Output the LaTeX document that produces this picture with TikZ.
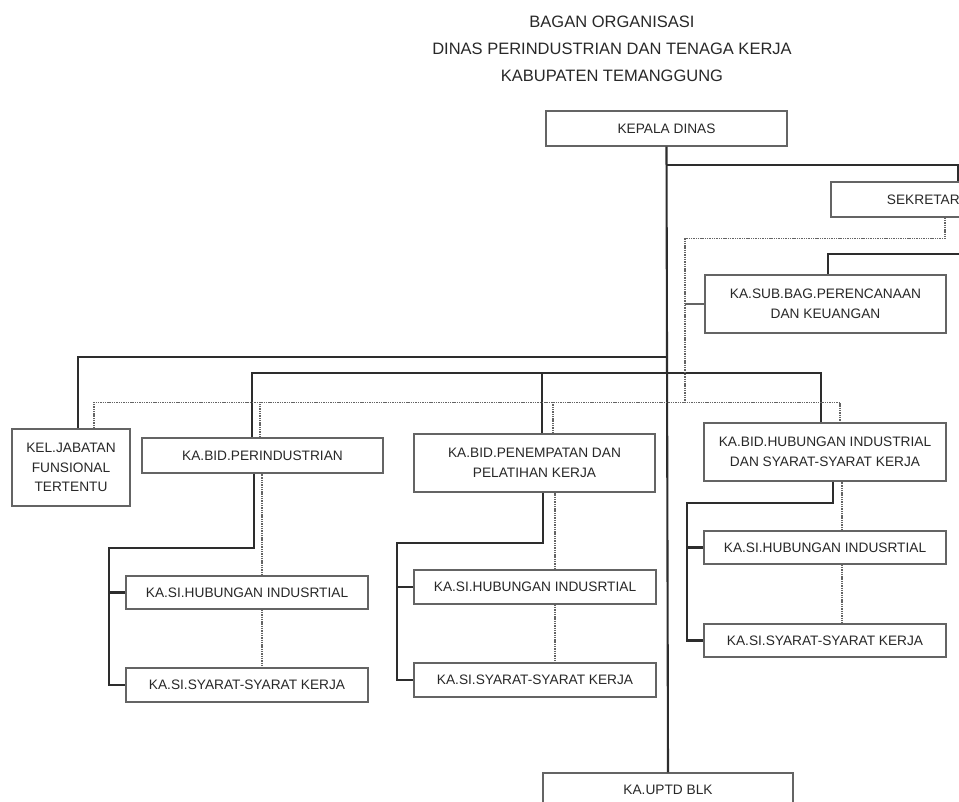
\documentclass[tikz,border=0pt]{standalone}
\usepackage{fontspec}
\setmainfont{Liberation Sans}
\usepackage{tikz}
\usetikzlibrary{calc}
\usetikzlibrary{positioning}
\definecolor{garis}{RGB}{45,45,45}
\definecolor{bingkai}{RGB}{100,100,100}
\definecolor{teks}{RGB}{40,40,40}
\tikzstyle{block} = [draw=bingkai, line width=1.3pt, rectangle, fill=white,
    inner sep=0pt, align=center, text=teks,
    font=\fontsize{13.7}{19.5}\selectfont, minimum height=34, minimum width=242]
\tikzstyle{komando} = [draw=garis, line width=2.1pt]
\tikzstyle{koordinasi} = [draw=bingkai, line width=1.6pt, dash pattern=on 1.4pt off 0.9pt]
\tikzstyle{tipis} = [draw=bingkai, line width=1.1pt]

\begin{document}
\begin{tikzpicture}[x=1pt, y=-1pt]
    \useasboundingbox (0,0) rectangle (959,802);
    \clip (0,0) rectangle (959,802);
    \fill [white] (0,0) rectangle (959,802);

    \node [text=teks, align=center, font=\fontsize{16.5}{27}\selectfont] (judul) at (612,49)
        {BAGAN ORGANISASI\\DINAS PERINDUSTRIAN DAN TENAGA KERJA\\KABUPATEN TEMANGGUNG};

    \node [block, minimum height=35, minimum width=241] (kadin) at (666.5,128.5) {KEPALA DINAS};
    \node [block, minimum height=35, minimum width=205] (sek) at (933.5,199.5) {SEKRETARIAT};
    \node [block, minimum height=58, minimum width=241] (sub) at (825.5,304)
        {KA.SUB.BAG.PERENCANAAN\\DAN KEUANGAN};
    \node [block, minimum height=77, minimum width=118] (kel) at (71,467.5)
        {KEL.JABATAN\\FUNSIONAL\\TERTENTU};
    \node [block, minimum height=35, minimum width=241] (perind) at (262.5,455.5) {KA.BID.PERINDUSTRIAN};
    \node [block, minimum height=58, minimum width=241] (penem) at (534.5,463)
        {KA.BID.PENEMPATAN DAN\\PELATIHAN KERJA};
    \node [block, minimum height=58] (hub) at (825,452)
        {KA.BID.HUBUNGAN INDUSTRIAL\\DAN SYARAT-SYARAT KERJA};
    \node [block, minimum height=33] (lhub) at (247,592.5) {KA.SI.HUBUNGAN INDUSRTIAL};
    \node [block] (lsya) at (247,685) {KA.SI.SYARAT-SYARAT KERJA};
    \node [block] (mhub) at (535,587) {KA.SI.HUBUNGAN INDUSRTIAL};
    \node [block] (msya) at (535,680) {KA.SI.SYARAT-SYARAT KERJA};
    \node [block, minimum height=33] (rhub) at (825,547.5) {KA.SI.HUBUNGAN INDUSRTIAL};
    \node [block, minimum height=33] (rsya) at (825,640.5) {KA.SI.SYARAT-SYARAT KERJA};
    \node [block, minimum width=250] (uptd) at (668,790) {KA.UPTD BLK};

    \coordinate (bussek) at (0,165);
    \coordinate (bus1) at (0,357);
    \coordinate (simpul) at (685,403);

    % garis komando
    \draw [komando] (kadin.south) -- (uptd.north);
    \draw [komando] (kadin.south |- bussek) -| ([xshift=24.5]sek.north);
    \draw [komando] ([xshift=-5]sek.south east) -- ++(0,36) -| ([xshift=2.5]sub.north);
    \draw [komando] (kadin.south |- bus1) -| ([xshift=7]kel.north);
    \draw [komando] ([xshift=-10.5]perind.north) -- ++(0,-64) -| ([xshift=-4]hub.north);
    \draw [komando] ([xshift=7.5]penem.north) -- ++(0,-60);
    \draw [komando] ([xshift=-8.5]perind.south) -- ++(0,74) -| ([xshift=-16]lsya.west) -- (lsya.west);
    \draw [komando] (lhub.west) -- ++(-16,0);
    \draw [komando] ([xshift=8.5]penem.south) -- ++(0,50) -| ([xshift=-16]msya.west) -- (msya.west);
    \draw [komando] (mhub.west) -- ++(-16,0);
    \draw [komando] ([xshift=8]hub.south) -- ++(0,21) -| ([xshift=-16]rsya.west) -- (rsya.west);
    \draw [komando] (rhub.west) -- ++(-16,0);

    % garis koordinasi
    \draw [koordinasi] ([xshift=11.5]sek.south) -- ++(0,21) -| (simpul);
    \draw [tipis] (sub.west) -- (sub.west -| simpul);
    \draw [koordinasi] ([xshift=23]kel.north) -- ++(0,-26) -| ([xshift=15]hub.north);
    \draw [koordinasi] ([xshift=-2.5]perind.north) -- ++(0,-35);
    \draw [koordinasi] ([xshift=18.5]penem.north) -- ++(0,-31);
    \draw [koordinasi] ([xshift=15]lhub.north) -- ([xshift=15]lhub.north |- perind.south);
    \draw [koordinasi] ([xshift=15]lhub.south) -- ([xshift=15]lsya.north);
    \draw [koordinasi] ([xshift=20]mhub.north) -- ([xshift=20]mhub.north |- penem.south);
    \draw [koordinasi] ([xshift=20]mhub.south) -- ([xshift=20]msya.north);
    \draw [koordinasi] ([xshift=17]rhub.north) -- ([xshift=17]rhub.north |- hub.south);
    \draw [koordinasi] ([xshift=17]rhub.south) -- ([xshift=17]rsya.north);
\end{tikzpicture}
\end{document}
